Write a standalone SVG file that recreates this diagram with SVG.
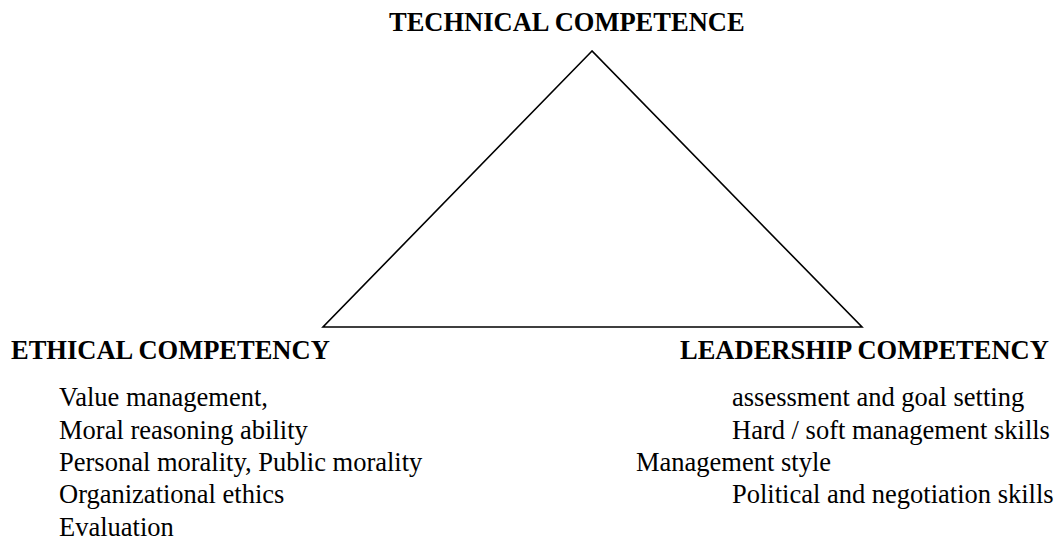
<svg xmlns="http://www.w3.org/2000/svg" width="1057" height="543" viewBox="0 0 1057 543">
  <style>
    .head { font-family: "Liberation Serif", "Times New Roman", serif; font-size: 26.5px; font-weight: bold; fill: #000; }
    .item { font-family: "Liberation Serif", "Times New Roman", serif; font-size: 26.5px; fill: #000; }
    .edge { fill: none; stroke: #000; stroke-width: 1.6; stroke-linejoin: miter; }
  </style>
  <rect width="1057" height="543" fill="#fff"/>
  <g id="connectors">
    <polygon class="edge" points="592,51 323,327 862,327"/>
  </g>
  <g id="technical">
    <text class="head" x="389" y="31">TECHNICAL COMPETENCE</text>
  </g>
  <g id="ethical">
    <text class="head" x="11" y="359">ETHICAL COMPETENCY</text>
    <text class="item" x="59" y="406">Value management,</text>
    <text class="item" x="59" y="439">Moral reasoning ability</text>
    <text class="item" x="59" y="471">Personal morality, Public morality</text>
    <text class="item" x="59" y="503">Organizational ethics</text>
    <text class="item" x="59" y="536">Evaluation</text>
  </g>
  <g id="leadership">
    <text class="head" x="680" y="359">LEADERSHIP COMPETENCY</text>
    <text class="item" x="732" y="406">assessment and goal setting</text>
    <text class="item" x="732" y="439">Hard / soft management skills</text>
    <text class="item" x="636" y="471">Management style</text>
    <text class="item" x="732" y="503">Political and negotiation skills</text>
  </g>
</svg>
